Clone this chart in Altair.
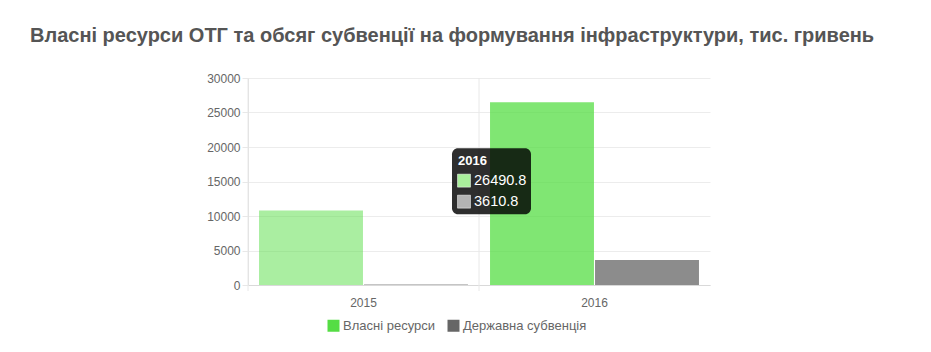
import altair as alt
import pandas as pd

years = ["2015", "2016"]
series = ["Власні ресурси", "Державна субвенція"]
own_resources = [10800.0, 26490.8]
state_subvention = [120.0, 3610.8]
y_ticks = [0, 5000, 10000, 15000, 20000, 25000, 30000]
title_text = "Власні ресурси ОТГ та обсяг субвенції на формування інфраструктури, тис. гривень"
hover_year = "2016"

FONT = "Liberation Sans"
GREEN = "#55dd44"
GREY = "#666666"

rows = []
for i, y in enumerate(years):
    rows.append({"year": y, "series": series[0], "value": own_resources[i]})
    rows.append({"year": y, "series": series[1], "value": state_subvention[i]})
df = pd.DataFrame(rows)

hi = years.index(hover_year)
tip_vals = [own_resources[hi], state_subvention[hi]]
tip_mean = sum(tip_vals) / len(tip_vals)
tip_df = pd.DataFrame({
    "year": [hover_year, hover_year],
    "series": series,
    "value": tip_vals,
    "tip": [tip_mean, tip_mean],
})
grid_df = pd.DataFrame({"year": years})

x_axis = alt.Axis(title=None, labelAngle=0, labelFont=FONT, labelFontSize=12,
                  labelColor="#666666", labelPadding=12, ticks=False, grid=False,
                  domainColor="#d9d9d9", domainWidth=1)
x_scale = alt.Scale(paddingInner=0, paddingOuter=0)
y_axis = alt.Axis(title=None, values=y_ticks, tickCount=7, labelFont=FONT,
                  labelFontSize=12, labelColor="#666666", labelPadding=2, tickSize=6,
                  labelOverlap=False, tickColor="#e8e8e8", gridColor="#ececec",
                  domainColor="#e0e0e0", format="d")
y_scale = alt.Scale(domain=[0, 30000], nice=False)

x_enc = alt.X("year:N", sort=years, scale=x_scale, axis=x_axis)
y_tip = alt.Y("tip:Q", scale=y_scale, axis=y_axis)

bars = alt.Chart(df).mark_bar(strokeWidth=1).encode(
    x=x_enc,
    xOffset=alt.XOffset("series:N", sort=series,
                        scale=alt.Scale(paddingOuter=0.105, paddingInner=0.01)),
    y=alt.Y("value:Q", scale=y_scale, axis=y_axis),
    color=alt.Color("series:N", sort=series,
                    scale=alt.Scale(domain=series, range=[GREEN, GREY]),
                    legend=alt.Legend(title=None, orient="none", direction="horizontal",
                                      legendX=79, legendY=241, symbolType="square",
                                      symbolSize=144, symbolStrokeWidth=0,
                                      symbolOpacity=1, labelFont=FONT, labelFontSize=13,
                                      labelColor="#666666", labelOffset=3,
                                      columnPadding=12, padding=0)),
    fillOpacity=alt.condition(alt.datum.year == hover_year, alt.value(0.75), alt.value(0.5)),
    strokeOpacity=alt.condition(alt.datum.year == hover_year, alt.value(0.9), alt.value(0.75)),
)

vgrid = alt.Chart(grid_df).mark_rule(color="#e8e8e8", strokeWidth=1).encode(
    x=alt.X("year:N", sort=years, scale=x_scale, axis=x_axis, bandPosition=0),
    y=alt.value(0),
    y2=alt.value(213),
)

tip_box = alt.Chart(tip_df).transform_filter(alt.datum.series == series[0]).mark_rect(
    width=79, height=66, cornerRadius=6, color="#000000", opacity=0.82, xOffset=-103
).encode(x=x_enc, y=y_tip)

tip_title = alt.Chart(tip_df).transform_filter(alt.datum.series == series[0]).mark_text(
    align="left", baseline="middle", font=FONT, fontSize=13, fontWeight="bold",
    color="#ffffff", xOffset=-136.5, yOffset=-20.5
).encode(x=x_enc, y=y_tip, text="year:N")

tip_layers = []
sw_colors = ["#aaf09c", "#b3b3b3"]
for k, s in enumerate(series):
    dy = -0.5 + 21 * k
    tip_layers.append(
        alt.Chart(tip_df).transform_filter(alt.datum.series == s).mark_square(
            size=169, color=sw_colors[k], opacity=1, stroke="#ffffff", strokeWidth=0.5,
            xOffset=-130.5, yOffset=dy
        ).encode(x=x_enc, y=y_tip)
    )
    tip_layers.append(
        alt.Chart(tip_df).transform_filter(alt.datum.series == s).mark_text(
            align="left", baseline="middle", font=FONT, fontSize=14.5, color="#ffffff",
            xOffset=-120.5, yOffset=dy
        ).encode(x=x_enc, y=y_tip, text=alt.Text("value:Q", format=".1f"))
    )

chart = alt.layer(bars, vgrid, tip_box, tip_title, *tip_layers).properties(
    width=462, height=207,
    autosize=alt.AutoSizeParams(type="none"),
    padding={"left": 248, "top": 78, "right": 221, "bottom": 67},
    title=alt.TitleParams(title_text, anchor="start", frame="group", orient="top",
                          font=FONT, fontSize=20, fontWeight="bold", color="#555555",
                          baseline="alphabetic", offset=34, dx=-218, dy=24),
).configure(background="#ffffff").configure_view(stroke=None)

chart.save("out.html", embed_options={"renderer": "svg", "actions": False})
